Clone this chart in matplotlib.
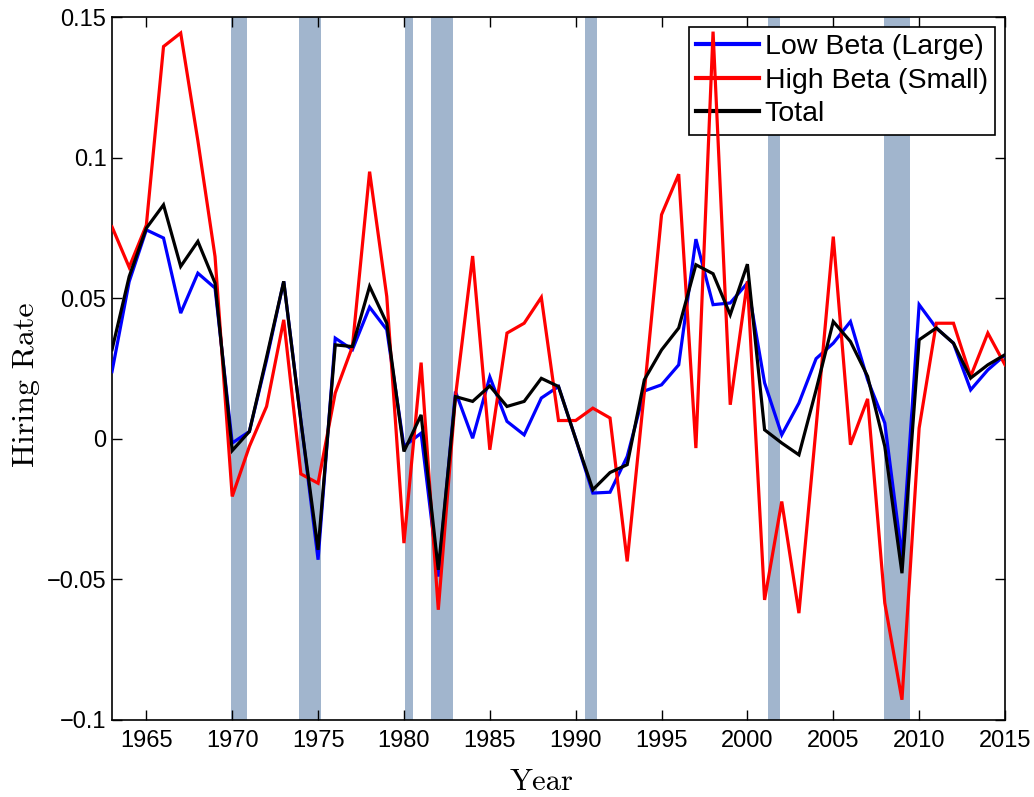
import matplotlib
matplotlib.use("Agg")
import matplotlib.pyplot as plt
import numpy as np

years = list(range(1963, 2016))

low_beta = [0.0239, 0.0559, 0.0743, 0.0714, 0.0447, 0.0589, 0.0536, -0.0015, 0.0026, 0.028,
            0.0560, 0.0065, -0.0430, 0.0358, 0.0317, 0.0468, 0.0388, -0.0027, 0.0020, -0.0490,
            0.0168, 0.0002, 0.0220, 0.0062, 0.0014, 0.0145, 0.0186, 0.0000, -0.0193, -0.0190,
            -0.0063, 0.0170, 0.0192, 0.0263, 0.0710, 0.0477, 0.0483, 0.0554, 0.0199, 0.0014,
            0.0127, 0.0285, 0.0340, 0.0417, 0.0210, 0.0056, -0.0420, 0.0477, 0.0394, 0.0340,
            0.0174, 0.0245, 0.0298]

high_beta = [0.0754, 0.0610, 0.0760, 0.1395, 0.1443, 0.1060, 0.0648, -0.0205, -0.0027, 0.0115,
             0.0423, -0.0125, -0.0158, 0.0163, 0.0328, 0.0950, 0.0506, -0.0371, 0.0271, -0.0608,
             0.0150, 0.0650, -0.0039, 0.0376, 0.0411, 0.0503, 0.0065, 0.0065, 0.0109, 0.0074,
             -0.0436, 0.0168, 0.0797, 0.0941, -0.0033, 0.1448, 0.0121, 0.0560, -0.0573, -0.0223,
             -0.0620, 0.0040, 0.0719, -0.0021, 0.0142, -0.0584, -0.0928, 0.0038, 0.0411, 0.0411,
             0.0222, 0.0376, 0.0263]

total = [0.0317, 0.0577, 0.0749, 0.0832, 0.0613, 0.0702, 0.0554, -0.0042, 0.0026, 0.0290,
         0.0560, 0.0062, -0.0395, 0.0334, 0.0328, 0.0542, 0.0411, -0.0045, 0.0085, -0.0466,
         0.0150, 0.0133, 0.0188, 0.0115, 0.0133, 0.0215, 0.0186, 0.0000, -0.0181, -0.0120,
         -0.0092, 0.0210, 0.0316, 0.0394, 0.0619, 0.0587, 0.0441, 0.0621, 0.0032, -0.0015,
         -0.0057, 0.0174, 0.0417, 0.0346, 0.0222, -0.0027, -0.0478, 0.0352, 0.0394, 0.0340,
         0.0216, 0.0263, 0.0299]

recession_start = [1969.95, 1973.87, 1980.04, 1981.55, 1990.54, 2001.22, 2007.98]
recession_end = [1970.88, 1975.19, 1980.55, 1982.88, 1991.22, 2001.90, 2009.48]

series_labels = ["Low Beta (Large)", "High Beta (Small)", "Total"]
x_ticks = list(range(1965, 2016, 5))
y_ticks = [-0.1, -0.05, 0, 0.05, 0.1, 0.15]
y_tick_labels = ["\u22120.1", "\u22120.05", "0", "0.05", "0.1", "0.15"]

fig = plt.figure(figsize=(10.34, 7.97), dpi=100)
ax = fig.add_axes([112/1034, 1 - 720/797, (1005 - 112)/1034, (720 - 17)/797])

for s, e in zip(recession_start, recession_end):
    ax.axvspan(s, e, color="#a1b5cd", lw=0, zorder=0)

line_kw = dict(lw=2.3, solid_joinstyle="miter")
ax.plot(years, low_beta, color="#0000ff", label=series_labels[0], zorder=3, **line_kw)
ax.plot(years, high_beta, color="#ff0000", label=series_labels[1], zorder=4, **line_kw)
ax.plot(years, total, color="#000000", label=series_labels[2], zorder=5, **line_kw)

ax.set_xlim(1963, 2015)
ax.set_ylim(-0.1, 0.15)
ax.set_xticks(x_ticks)
ax.set_xticklabels([str(t) for t in x_ticks], family="Liberation Sans", fontsize=17)
ax.set_yticks(y_ticks)
ax.set_yticklabels(y_tick_labels, family="Liberation Sans", fontsize=17)
ax.tick_params(direction="in", length=7, width=1.0, top=True, right=True)
ax.tick_params(axis="y", pad=4)
ax.tick_params(axis="x", pad=7)

for sp in ax.spines.values():
    sp.set_linewidth(1.2)

ax.set_xlabel("Year", family="cmr10", fontsize=22, va="baseline")
ax.xaxis.set_label_coords((542 - 112) / 893, (720 - 790) / 703)
ax.set_ylabel("Hiring Rate", family="cmr10", fontsize=23, va="center")
ax.yaxis.set_label_coords((26 - 112) / 893, (720 - 385) / 703)

leg = ax.legend(loc="upper right", prop={"family": "Liberation Sans", "size": 20.5},
                frameon=True, fancybox=False, edgecolor="black", framealpha=1,
                handlelength=2.2, handletextpad=0.2, labelspacing=0.27,
                borderpad=0.25, borderaxespad=0.35)
leg.get_frame().set_linewidth(1.2)
leg.set_zorder(2)
for h in leg.get_lines():
    h.set_linewidth(3.0)

fig.savefig("out.png", dpi=100)
